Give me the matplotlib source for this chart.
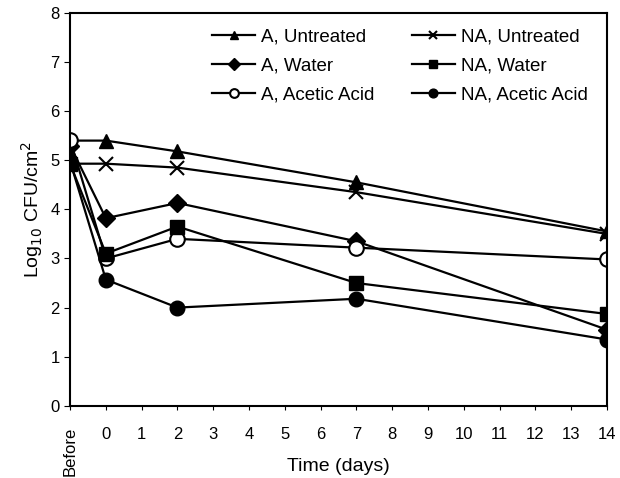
import numpy as np
import matplotlib
matplotlib.use("Agg")
import matplotlib.pyplot as plt

plt.rcParams['font.family'] = ['Liberation Sans', 'DejaVu Sans']

# x positions: -1 is the "Before" sample
days = [-1, 0, 2, 7, 14]
tick_pos = [-1] + list(range(0, 15))
tick_labels = ["Before"] + [str(i) for i in range(0, 15)]

a_untreated = [5.40, 5.40, 5.18, 4.55, 3.55]
na_untreated = [4.93, 4.93, 4.85, 4.35, 3.50]
a_water = [5.30, 3.82, 4.13, 3.35, 1.55]
na_water = [4.93, 3.10, 3.65, 2.50, 1.87]
a_acetic = [5.42, 3.00, 3.40, 3.22, 2.98]
na_acetic = [4.98, 2.57, 2.00, 2.18, 1.35]

fig = plt.figure(figsize=(6.2, 4.78), dpi=100)
ax = fig.add_axes([0.113, 0.151, 0.866, 0.822])

lw = 1.6
ax.plot(days, a_untreated, color='black', lw=lw, marker='^', ms=10.5, label='A, Untreated')
ax.plot(days, a_water, color='black', lw=lw, marker='D', ms=9.5, label='A, Water')
ax.plot(days, a_acetic, color='black', lw=lw, marker='o', ms=10.5, mfc='white', mew=1.5, label='A, Acetic Acid')
ax.plot(days, na_untreated, color='black', lw=lw, marker='x', ms=10.5, mew=1.5, label='NA, Untreated')
ax.plot(days, na_water, color='black', lw=lw, marker='s', ms=9.5, label='NA, Water')
ax.plot(days, na_acetic, color='black', lw=lw, marker='o', ms=10.5, label='NA, Acetic Acid')

ax.set_xlim(-1, 14)
ax.set_ylim(0, 8)
ax.set_xticks(tick_pos)
ax.set_xticklabels(tick_labels, fontsize=12)
ax.get_xticklabels()[0].set_rotation(90)
ax.get_xticklabels()[0].set_va('top')
ax.set_yticks(range(0, 9))
ax.tick_params(axis='y', labelsize=12, direction='out', length=4)
ax.tick_params(axis='x', direction='out', length=3, pad=12)
for s in ax.spines.values():
    s.set_linewidth(1.5)

ax.set_xlabel('Time (days)', fontsize=14)
ax.xaxis.set_label_coords(0.5, -0.132)
ax.set_ylabel(r'Log$_{10}$ CFU/cm$^2$', fontsize=14)

ax.legend(ncol=2, loc='upper right', bbox_to_anchor=(0.995, 1.004), frameon=False,
          fontsize=13.5, markerscale=0.6, handlelength=2.3, columnspacing=2.0,
          labelspacing=0.64, handletextpad=0.3)

fig.savefig('out.png', dpi=100)
